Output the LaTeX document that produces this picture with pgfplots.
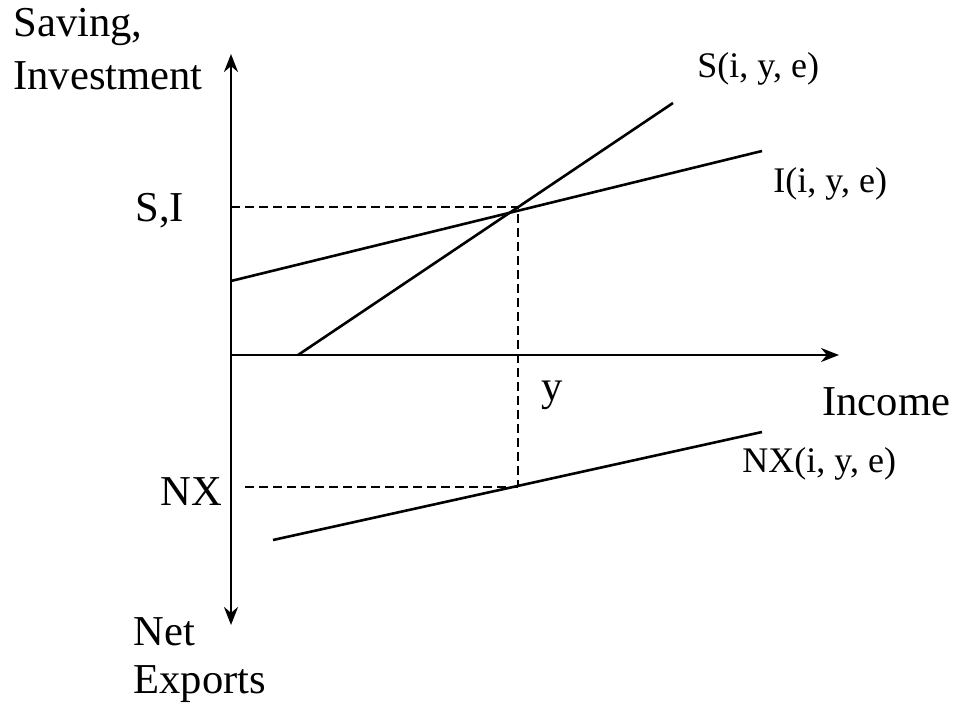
\documentclass[border=0pt]{standalone}
\usepackage{pgfplots}
\pgfplotsset{compat=1.18}
\usetikzlibrary{arrows.meta}
\usepackage{fontspec}
\setmainfont{Liberation Serif}
\tikzset{
  mainlbl/.style={font=\fontsize{21.3}{25}\selectfont, anchor=base west, inner sep=0pt},
  curvelbl/.style={font=\fontsize{18}{22}\selectfont, anchor=base west, inner sep=0pt},
}
\begin{document}
\begin{tikzpicture}
\begin{axis}[
  hide axis, scale only axis, clip=false,
  width=478pt, height=356.5pt,
  xmin=0, xmax=956, ymin=0, ymax=713,
]
% axes
\addplot[black, line width=1.3pt, -{Stealth[length=9pt,width=7pt]}] coordinates {(231,358) (231,659)};
\addplot[black, line width=1.3pt, -{Stealth[length=9pt,width=7pt]}] coordinates {(231,358) (231,88)};
\addplot[black, line width=1.3pt, -{Stealth[length=9pt,width=7pt]}] coordinates {(231,358) (839,358)};
% curves
\addplot[black, solid, line width=1.3pt] coordinates {(298,358) (673,610)};
\addplot[black, solid, line width=1.3pt] coordinates {(231,432) (762,562)};
\addplot[black, solid, line width=1.3pt] coordinates {(273,173) (762,281)};
% dashed guides
\addplot[black, line width=1pt, dash pattern=on 4.5pt off 2.5pt] coordinates {(231,506) (518,506) (518,226)};
\addplot[black, line width=1pt, dash pattern=on 4.5pt off 2.5pt] coordinates {(245,226) (518,226)};
% labels
\node[mainlbl] at (axis cs:13,676) {Saving,};
\node[mainlbl] at (axis cs:13,623) {Investment};
\node[mainlbl] at (axis cs:135,491) {S,I};
\node[mainlbl] at (axis cs:541,313) {y};
\node[mainlbl] at (axis cs:822,298) {Income};
\node[mainlbl] at (axis cs:160,208) {NX};
\node[mainlbl] at (axis cs:133,68) {Net};
\node[mainlbl] at (axis cs:133,20) {Exports};
\node[curvelbl] at (axis cs:697,635) {S(i, y, e)};
\node[curvelbl] at (axis cs:773,520) {I(i, y, e)};
\node[curvelbl] at (axis cs:742,241) {NX(i, y, e)};
\end{axis}
\pgfresetboundingbox
\path[use as bounding box] (current axis.south west) rectangle (current axis.north east);
\end{tikzpicture}
\end{document}
